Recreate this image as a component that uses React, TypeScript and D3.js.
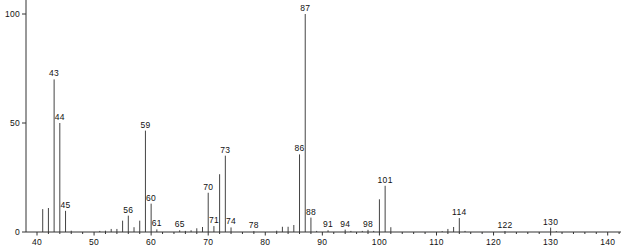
import React from "react";
import * as d3 from "d3";

const masses = [41, 42, 43, 44, 45, 46, 51, 52, 53, 54, 55, 56, 57, 58, 59, 60, 61, 65, 66, 67, 68, 69, 70, 71, 72, 73, 74, 78, 82, 83, 84, 85, 86, 87, 88, 89, 91, 94, 95, 97, 98, 99, 100, 101, 102, 111, 112, 113, 114, 115, 122, 130, 131];
const intensities = [10.5, 11, 70, 50, 9.7, 0.6, 0.5, 0.6, 1.4, 1.4, 5.2, 7.5, 2.2, 5.2, 46.5, 13, 1.2, 0.8, 0.5, 0.8, 1.7, 2.3, 18, 2.7, 26.5, 35, 2.1, 0.4, 0.6, 2.4, 2.4, 3.2, 35.6, 100, 6.6, 0.5, 0.8, 1.1, 0.5, 0.5, 1, 0.5, 15, 21.2, 2.2, 0.4, 1.4, 2.3, 6.4, 0.5, 0.4, 2, 0.4];
const labeledMasses = [43, 44, 45, 56, 59, 60, 61, 65, 70, 71, 73, 74, 78, 86, 87, 88, 91, 94, 98, 101, 114, 122, 130];
const xTickValues = [40, 50, 60, 70, 80, 90, 100, 110, 120, 130, 140];
const yTickValues = [0, 50, 100];

export default function App() {
  const W = 621, H = 249;
  const x = d3.scaleLinear().domain([40, 140]).range([37, 607.7]);
  const y = d3.scaleLinear().domain([0, 100]).range([232, 14]);
  const axisX = 26;
  const baseY = y(0);
  const minorTicks = d3.range(40, 143, 2);
  const font = "'Liberation Sans', Arial, sans-serif";
  const peaks = masses.map((m, i) => ({ m, v: intensities[i] }));
  return (
    <svg width={W} height={H} style={{ position: "absolute", left: 0, top: 0, background: "#fff" }} fontFamily={font}>
      <rect width={W} height={H} fill="#fff" />
      {peaks.map((p) => (
        <line key={"p" + p.m} x1={x(p.m)} x2={x(p.m)} y1={baseY} y2={y(p.v)} stroke="#444" strokeWidth={1} />
      ))}
      {peaks.filter((p) => labeledMasses.includes(p.m)).map((p) => (
        <text key={"l" + p.m} x={x(p.m)} y={y(p.v) - 3} fontSize={8.5} textAnchor="middle" fill="#111" letterSpacing={0.3}>{p.m}</text>
      ))}
      <line x1={axisX} x2={W} y1={baseY} y2={baseY} stroke="#333" strokeWidth={1} />
      <line x1={axisX} x2={axisX} y1={0} y2={baseY} stroke="#333" strokeWidth={1} />
      {minorTicks.map((t) => (
        <line key={"mt" + t} x1={x(t)} x2={x(t)} y1={baseY} y2={baseY + (t % 10 === 0 ? 3.5 : 2)} stroke="#333" strokeWidth={1} />
      ))}
      {xTickValues.map((t) => (
        <text key={"xt" + t} x={x(t)} y={245} fontSize={8.5} textAnchor="middle" fill="#111" letterSpacing={0.3}>{t}</text>
      ))}
      {yTickValues.map((t) => (
        <g key={"yt" + t}>
          <line x1={axisX - 4} x2={axisX} y1={y(t)} y2={y(t)} stroke="#333" strokeWidth={1} />
          <text x={20} y={y(t)} dy="0.35em" fontSize={8.5} textAnchor="end" fill="#111" letterSpacing={0.3}>{t}</text>
        </g>
      ))}
    </svg>
  );
}
